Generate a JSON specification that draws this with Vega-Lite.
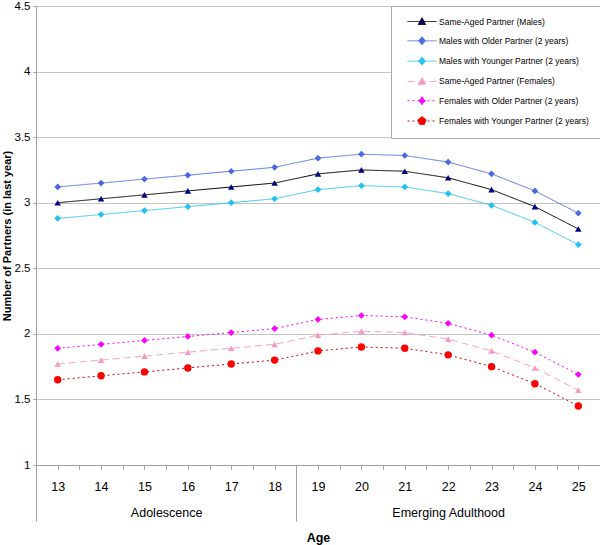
{
  "$schema": "https://vega.github.io/schema/vega-lite/v6.json",
  "autosize": "none",
  "width": 564,
  "height": 459,
  "padding": {"left": 36, "top": 6, "right": 0, "bottom": 80},
  "background": "white",
  "config": {
    "font": "Liberation Sans, Arial, sans-serif",
    "view": {"stroke": "#A8A8A8", "strokeWidth": 1},
    "axis": {"labelColor": "#000000", "titleColor": "#000000", "labelFontWeight": "normal"}
  },
  "data": {
    "values": [
      {"age": 13, "Same-Aged Partner (Males)": 3.00, "Males with Older Partner (2 years)": 3.12, "Males with Younger Partner (2 years)": 2.88, "Same-Aged Partner (Females)": 1.77, "Females with Older Partner (2 years)": 1.89, "Females with Younger Partner (2 years)": 1.65},
      {"age": 14, "Same-Aged Partner (Males)": 3.03, "Males with Older Partner (2 years)": 3.15, "Males with Younger Partner (2 years)": 2.91, "Same-Aged Partner (Females)": 1.80, "Females with Older Partner (2 years)": 1.92, "Females with Younger Partner (2 years)": 1.68},
      {"age": 15, "Same-Aged Partner (Males)": 3.06, "Males with Older Partner (2 years)": 3.18, "Males with Younger Partner (2 years)": 2.94, "Same-Aged Partner (Females)": 1.83, "Females with Older Partner (2 years)": 1.95, "Females with Younger Partner (2 years)": 1.71},
      {"age": 16, "Same-Aged Partner (Males)": 3.09, "Males with Older Partner (2 years)": 3.21, "Males with Younger Partner (2 years)": 2.97, "Same-Aged Partner (Females)": 1.86, "Females with Older Partner (2 years)": 1.98, "Females with Younger Partner (2 years)": 1.74},
      {"age": 17, "Same-Aged Partner (Males)": 3.12, "Males with Older Partner (2 years)": 3.24, "Males with Younger Partner (2 years)": 3.00, "Same-Aged Partner (Females)": 1.89, "Females with Older Partner (2 years)": 2.01, "Females with Younger Partner (2 years)": 1.77},
      {"age": 18, "Same-Aged Partner (Males)": 3.15, "Males with Older Partner (2 years)": 3.27, "Males with Younger Partner (2 years)": 3.03, "Same-Aged Partner (Females)": 1.92, "Females with Older Partner (2 years)": 2.04, "Females with Younger Partner (2 years)": 1.80},
      {"age": 19, "Same-Aged Partner (Males)": 3.22, "Males with Older Partner (2 years)": 3.34, "Males with Younger Partner (2 years)": 3.10, "Same-Aged Partner (Females)": 1.99, "Females with Older Partner (2 years)": 2.11, "Females with Younger Partner (2 years)": 1.87},
      {"age": 20, "Same-Aged Partner (Males)": 3.25, "Males with Older Partner (2 years)": 3.37, "Males with Younger Partner (2 years)": 3.13, "Same-Aged Partner (Females)": 2.02, "Females with Older Partner (2 years)": 2.14, "Females with Younger Partner (2 years)": 1.90},
      {"age": 21, "Same-Aged Partner (Males)": 3.24, "Males with Older Partner (2 years)": 3.36, "Males with Younger Partner (2 years)": 3.12, "Same-Aged Partner (Females)": 2.01, "Females with Older Partner (2 years)": 2.13, "Females with Younger Partner (2 years)": 1.89},
      {"age": 22, "Same-Aged Partner (Males)": 3.19, "Males with Older Partner (2 years)": 3.31, "Males with Younger Partner (2 years)": 3.07, "Same-Aged Partner (Females)": 1.96, "Females with Older Partner (2 years)": 2.08, "Females with Younger Partner (2 years)": 1.84},
      {"age": 23, "Same-Aged Partner (Males)": 3.10, "Males with Older Partner (2 years)": 3.22, "Males with Younger Partner (2 years)": 2.98, "Same-Aged Partner (Females)": 1.87, "Females with Older Partner (2 years)": 1.99, "Females with Younger Partner (2 years)": 1.75},
      {"age": 24, "Same-Aged Partner (Males)": 2.97, "Males with Older Partner (2 years)": 3.09, "Males with Younger Partner (2 years)": 2.85, "Same-Aged Partner (Females)": 1.74, "Females with Older Partner (2 years)": 1.86, "Females with Younger Partner (2 years)": 1.62},
      {"age": 25, "Same-Aged Partner (Males)": 2.80, "Males with Older Partner (2 years)": 2.92, "Males with Younger Partner (2 years)": 2.68, "Same-Aged Partner (Females)": 1.57, "Females with Older Partner (2 years)": 1.69, "Females with Younger Partner (2 years)": 1.45}
    ]
  },
  "transform": [
    {"fold": ["Same-Aged Partner (Males)", "Males with Older Partner (2 years)", "Males with Younger Partner (2 years)", "Same-Aged Partner (Females)", "Females with Older Partner (2 years)", "Females with Younger Partner (2 years)"], "as": ["series", "value"]}
  ],
  "encoding": {
    "y": {
      "field": "value", "type": "quantitative",
      "scale": {"domain": [1, 4.5], "nice": false, "zero": false},
      "axis": {
        "title": "Number of Partners (in last year)",
        "values": [1, 1.5, 2, 2.5, 3, 3.5, 4, 4.5],
        "format": "~g",
        "grid": true, "gridColor": "#C4C4C4",
        "domainColor": "#A0A0A0", "tickColor": "#A0A0A0", "tickSize": 3,
        "labelFontSize": 11.5, "labelPadding": 3,
        "titleFontSize": 11, "titleFontWeight": "bold", "titlePadding": 2
      }
    }
  },
  "resolve": {"axis": {"x": "independent"}},
  "layer": [
    {
      "mark": {"type": "line"},
      "encoding": {
        "x": {
          "field": "age", "type": "quantitative",
          "scale": {"domain": [12.5, 25.5], "nice": false, "zero": false},
          "axis": {
            "orient": "bottom", "title": null,
            "values": [12.5, 13, 13.5, 14, 14.5, 15, 15.5, 16, 16.5, 17, 17.5, 18, 18.5, 19, 19.5, 20, 20.5, 21, 21.5, 22, 22.5, 23, 23.5, 24, 24.5, 25, 25.5],
            "labelExpr": "datum.value % 1 === 0 ? format(datum.value, 'd') : ''",
            "labelOverlap": false, "labelFlush": false, "labelBound": false,
            "grid": false, "tickSize": 4, "tickColor": "#A0A0A0", "domainColor": "#A0A0A0",
            "labelPadding": 11, "labelFontSize": 12.5
          }
        },
        "color": {
          "field": "series", "type": "nominal",
          "scale": {
            "domain": ["Same-Aged Partner (Males)", "Males with Older Partner (2 years)", "Males with Younger Partner (2 years)", "Same-Aged Partner (Females)", "Females with Older Partner (2 years)", "Females with Younger Partner (2 years)"],
            "range": ["#000000", "#5A78E6", "#3FC8F0", "#F4A3C5", "#FF00FF", "#D40000"]
          },
          "legend": {
            "title": null, "orient": "top-right", "offset": 0,
            "fillColor": "white", "strokeColor": "#A8A8A8", "padding": 11,
            "labelFontSize": 8.5, "labelColor": "#000000", "labelOffset": 28, "labelLimit": 300,
            "symbolSize": 64, "rowPadding": 7.3, "symbolType": "stroke",
            "encode": {
              "symbols": {
                "update": {
                  "shape": {"signal": "['M0.25,0H7.5M3.875,-0.95L4.8,0.75H2.95Z', 'M0.25,0H7.5M3.875,-1L4.75,0L3.875,1L3,0Z', 'M0.25,0H7.5M3.875,-1L4.75,0L3.875,1L3,0Z', 'M0.25,0H7.5M3.875,-0.95L4.8,0.75H2.95Z', 'M0.25,0H7.5M3.875,-1L4.75,0L3.875,1L3,0Z', 'M0.25,0H7.5M2.875,0A1,1,0,1,1,4.875,0A1,1,0,1,1,2.875,0Z'][datum.index]"},
                  "size": {"value": 64},
                  "stroke": {"signal": "['#000000', '#5A78E6', '#3FC8F0', '#F4A3C5', '#FF00FF', '#D40000'][datum.index]"},
                  "fill": {"signal": "['#000080', '#4A68E0', '#22C0F0', '#F49AC1', '#FF00FF', '#FF0000'][datum.index]"},
                  "strokeDash": {"signal": "[[1,0],[1,0],[1,0],[7,4],[2,3],[2,3]][datum.index]"},
                  "strokeWidth": {"signal": "datum.index < 3 ? 1 : 1.5"},
                  "strokeOpacity": {"value": 1},
                  "fillOpacity": {"value": 1},
                  "opacity": {"value": 1}
                }
              }
            }
          }
        },
        "strokeDash": {
          "field": "series", "type": "nominal",
          "scale": {
            "domain": ["Same-Aged Partner (Males)", "Males with Older Partner (2 years)", "Males with Younger Partner (2 years)", "Same-Aged Partner (Females)", "Females with Older Partner (2 years)", "Females with Younger Partner (2 years)"],
            "range": [[1, 0], [1, 0], [1, 0], [7, 4], [2, 3], [2, 3]]
          },
          "legend": null
        },
        "strokeWidth": {
          "field": "series", "type": "nominal",
          "scale": {
            "domain": ["Same-Aged Partner (Males)", "Males with Older Partner (2 years)", "Males with Younger Partner (2 years)", "Same-Aged Partner (Females)", "Females with Older Partner (2 years)", "Females with Younger Partner (2 years)"],
            "range": [1, 1, 1, 1.5, 1.5, 1.5]
          },
          "legend": null
        }
      }
    },
    {
      "transform": [{"filter": "indexof(datum.series, 'Same-Aged') >= 0"}],
      "mark": {"type": "point", "shape": "triangle-up", "size": 42, "filled": true, "opacity": 1, "strokeWidth": 0},
      "encoding": {
        "x": {
          "field": "age", "type": "quantitative",
          "axis": {
            "orient": "bottom",
            "values": [15.5, 22],
            "labelExpr": "datum.value < 18.5 ? 'Adolescence' : 'Emerging Adulthood'",
            "ticks": false, "domain": false, "grid": false,
            "labelPadding": 41, "labelFontSize": 12.5,
            "title": "Age", "titleFontSize": 12.5, "titleFontWeight": "bold", "titlePadding": 13
          }
        },
        "fill": {
          "field": "series", "type": "nominal",
          "scale": {
            "domain": ["Same-Aged Partner (Males)", "Males with Older Partner (2 years)", "Males with Younger Partner (2 years)", "Same-Aged Partner (Females)", "Females with Older Partner (2 years)", "Females with Younger Partner (2 years)"],
            "range": ["#000080", "#4A68E0", "#22C0F0", "#F49AC1", "#FF00FF", "#FF0000"]
          },
          "legend": null
        }
      }
    },
    {
      "transform": [{"filter": "indexof(datum.series, 'with Older') >= 0 || datum.series === 'Males with Younger Partner (2 years)'"}],
      "mark": {"type": "point", "shape": "diamond", "size": 45, "filled": true, "opacity": 1, "strokeWidth": 0},
      "encoding": {
        "x": {
          "field": "age", "type": "quantitative",
          "axis": {
            "orient": "bottom", "title": null,
            "values": [12.5, 18.5, 25.5],
            "labels": false, "domain": false, "grid": false,
            "tickSize": 56, "tickColor": "#A0A0A0"
          }
        },
        "fill": {"field": "series", "type": "nominal", "legend": null}
      }
    },
    {
      "transform": [{"filter": "datum.series === 'Females with Younger Partner (2 years)'"}],
      "mark": {"type": "point", "shape": "circle", "size": 55, "filled": true, "opacity": 1, "strokeWidth": 0},
      "encoding": {
        "x": {"field": "age", "type": "quantitative", "axis": null},
        "fill": {"field": "series", "type": "nominal", "legend": null}
      }
    }
  ]
}
